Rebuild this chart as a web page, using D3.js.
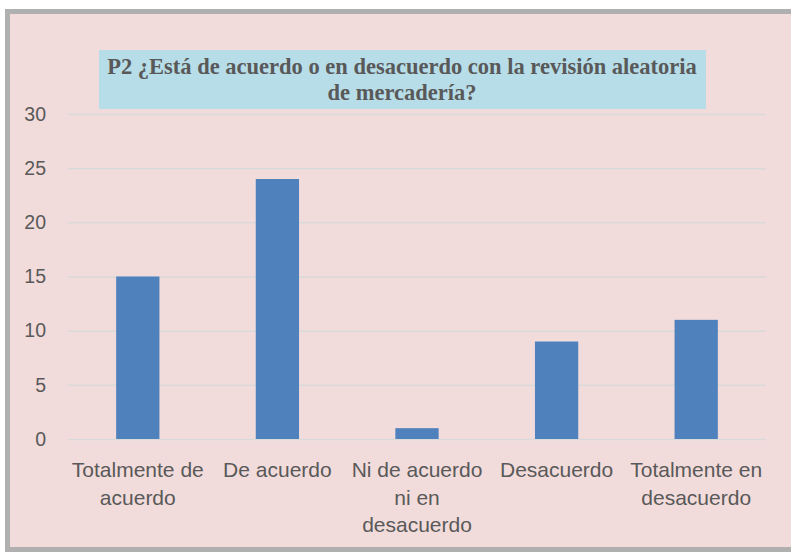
<!DOCTYPE html>
<html>
<head>
<meta charset="utf-8">
<script src="https://cdn.jsdelivr.net/npm/d3@7"></script>
<style>
  body { margin: 0; background: #fff; }
  #chart { width: 791px; height: 552px; }
</style>
</head>
<body>
<div id="chart"></div>
<script>
const categories = ["Totalmente de\nacuerdo", "De acuerdo", "Ni de acuerdo\nni en\ndesacuerdo", "Desacuerdo", "Totalmente en\ndesacuerdo"];
const values = [15, 24, 1, 9, 11];
const yTicks = [0, 5, 10, 15, 20, 25, 30];
const titleLines = ["P2 ¿Está de acuerdo o en desacuerdo con la revisión aleatoria", "de mercadería?"];

const W = 791, H = 552;
const plot = { left: 68, right: 766, top: 114, bottom: 439 };

const svg = d3.select("#chart").append("svg")
    .attr("width", W)
    .attr("height", H);

// chart frame
svg.append("rect")
    .attr("x", 7.5).attr("y", 11.5)
    .attr("width", 790).attr("height", 538)
    .attr("fill", "#f2dcdb")
    .attr("stroke", "#b0b0b0")
    .attr("stroke-width", 5);

const x = d3.scaleBand()
    .domain(categories)
    .range([plot.left, plot.right])
    .paddingInner(0.69)
    .paddingOuter(0.345);

const y = d3.scaleLinear()
    .domain([0, 30])
    .range([plot.bottom, plot.top]);

// gridlines
svg.append("g")
    .selectAll("line")
    .data(yTicks)
    .join("line")
    .attr("x1", plot.left).attr("x2", plot.right)
    .attr("y1", d => y(d) + 0.5).attr("y2", d => y(d) + 0.5)
    .attr("stroke", "#d9d9d9")
    .attr("stroke-width", 1.5);

// y axis labels
const yAxis = svg.append("g")
    .attr("transform", `translate(${plot.left - 22},0)`)
    .call(d3.axisLeft(y).tickValues(yTicks).tickSize(0).tickPadding(0));
yAxis.select(".domain").remove();
yAxis.selectAll("text")
    .attr("font-family", "Liberation Sans, Arial, sans-serif")
    .attr("font-size", 19.5)
    .attr("fill", "#595959");

// bars
svg.append("g")
    .selectAll("rect")
    .data(values)
    .join("rect")
    .attr("x", (d, i) => x(categories[i]))
    .attr("y", d => y(d))
    .attr("width", x.bandwidth())
    .attr("height", d => y(0) - y(d))
    .attr("fill", "#4f81bd");

// category labels
const labels = svg.append("g")
    .attr("font-family", "Liberation Sans, Arial, sans-serif")
    .attr("font-size", 21)
    .attr("fill", "#595959")
    .attr("text-anchor", "middle");

categories.forEach(c => {
    const cx = x(c) + x.bandwidth() / 2;
    const t = labels.append("text").attr("x", cx).attr("y", 477);
    c.split("\n").forEach((line, j) => {
        t.append("tspan").attr("x", cx).attr("dy", j === 0 ? 0 : 27.5).text(line);
    });
});

// title
svg.append("rect")
    .attr("x", 99).attr("y", 50)
    .attr("width", 607).attr("height", 59)
    .attr("fill", "#b7dde8");

svg.append("g")
    .selectAll("text")
    .data(titleLines)
    .join("text")
    .attr("x", 402)
    .attr("y", (d, i) => 74 + i * 26)
    .attr("text-anchor", "middle")
    .attr("font-family", "Liberation Serif, Times New Roman, serif")
    .attr("font-weight", "bold")
    .attr("font-size", 22.5)
    .attr("fill", "#595959")
    .text(d => d);
</script>
</body>
</html>
